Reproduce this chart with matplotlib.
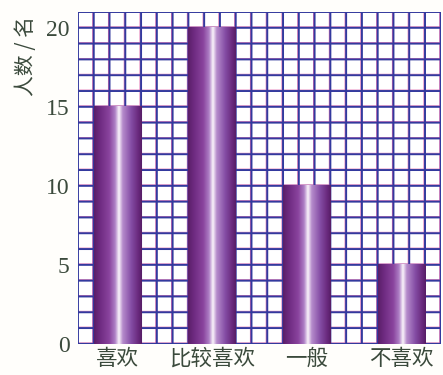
import numpy as np
import matplotlib.pyplot as plt
import matplotlib.transforms as mtransforms
from matplotlib.colors import LinearSegmentedColormap

categories = ["喜欢", "比较喜欢", "一般", "不喜欢"]
counts = [15, 20, 10, 5]
yticks = [0, 5, 10, 15, 20]

plt.rcParams['font.family'] = ['Noto Sans CJK SC', 'DejaVu Sans']

text_color = '#3b4a3c'
grid_blue = '#33399e'
grid_pink = '#e070b0'

# cylinder shading across each bar
bar_cmap = LinearSegmentedColormap.from_list('tube', [
    (0.00, '#5a1e68'), (0.12, '#6e2a80'), (0.32, '#8a449e'),
    (0.44, '#ae80c6'), (0.52, '#fbf5fb'), (0.60, '#b68ccc'),
    (0.78, '#844ca4'), (0.92, '#6a2a7e'), (1.00, '#561d66')])

fig = plt.figure(figsize=(4.43, 3.75), dpi=100, facecolor='#fffefb')
ax = fig.add_axes([0.176, 0.083, 0.819, 0.885])
ax.set_facecolor('white')

ncols = 23
ymax = 21
ax.set_xlim(0, ncols)
ax.set_ylim(0, ymax)

# grid paper: blue lines with a pink fringe one pixel off
shift_left = ax.transData + mtransforms.ScaledTranslation(-1.0 / 100, 0, fig.dpi_scale_trans)
shift_up = ax.transData + mtransforms.ScaledTranslation(0, 1.0 / 100, fig.dpi_scale_trans)
for x in range(ncols + 1):
    ax.plot([x, x], [0, ymax], color=grid_pink, lw=0.8, zorder=1,
            transform=shift_left, snap=False)
    ax.plot([x, x], [0, ymax], color=grid_blue, lw=1.4, zorder=1.5, snap=False)
for y in range(ymax + 1):
    ax.plot([0, ncols], [y, y], color=grid_pink, lw=0.6, zorder=1,
            transform=shift_up, snap=False)
    ax.plot([0, ncols], [y, y], color=grid_blue, lw=1.4, zorder=1.5, snap=False)

grad = np.linspace(0, 1, 256).reshape(1, -1)
centers = [2.5, 8.5, 14.5, 20.5]
width = 3
for c, h in zip(centers, counts):
    ax.imshow(grad, cmap=bar_cmap, aspect='auto', interpolation='bilinear',
              extent=(c - width / 2, c + width / 2, 0, h), zorder=3)

ax.set_xlim(0, ncols)
ax.set_ylim(0, ymax)

for s in ax.spines.values():
    s.set_visible(False)

ax.set_yticks(yticks)
ax.set_yticklabels([str(v) for v in yticks], family='Liberation Serif',
                   fontsize=17, color=text_color)
ax.set_xticks(centers)
ax.set_xticklabels(categories, fontsize=15.5, color=text_color)
ax.tick_params(length=0)
ax.tick_params(axis='y', pad=6)
ax.tick_params(axis='x', pad=3)

fig.text(0.058, 0.85, "人数 / 名", rotation=90, ha='center', va='center',
         fontsize=15, color=text_color)

fig.savefig('out.png', dpi=100, facecolor=fig.get_facecolor())
